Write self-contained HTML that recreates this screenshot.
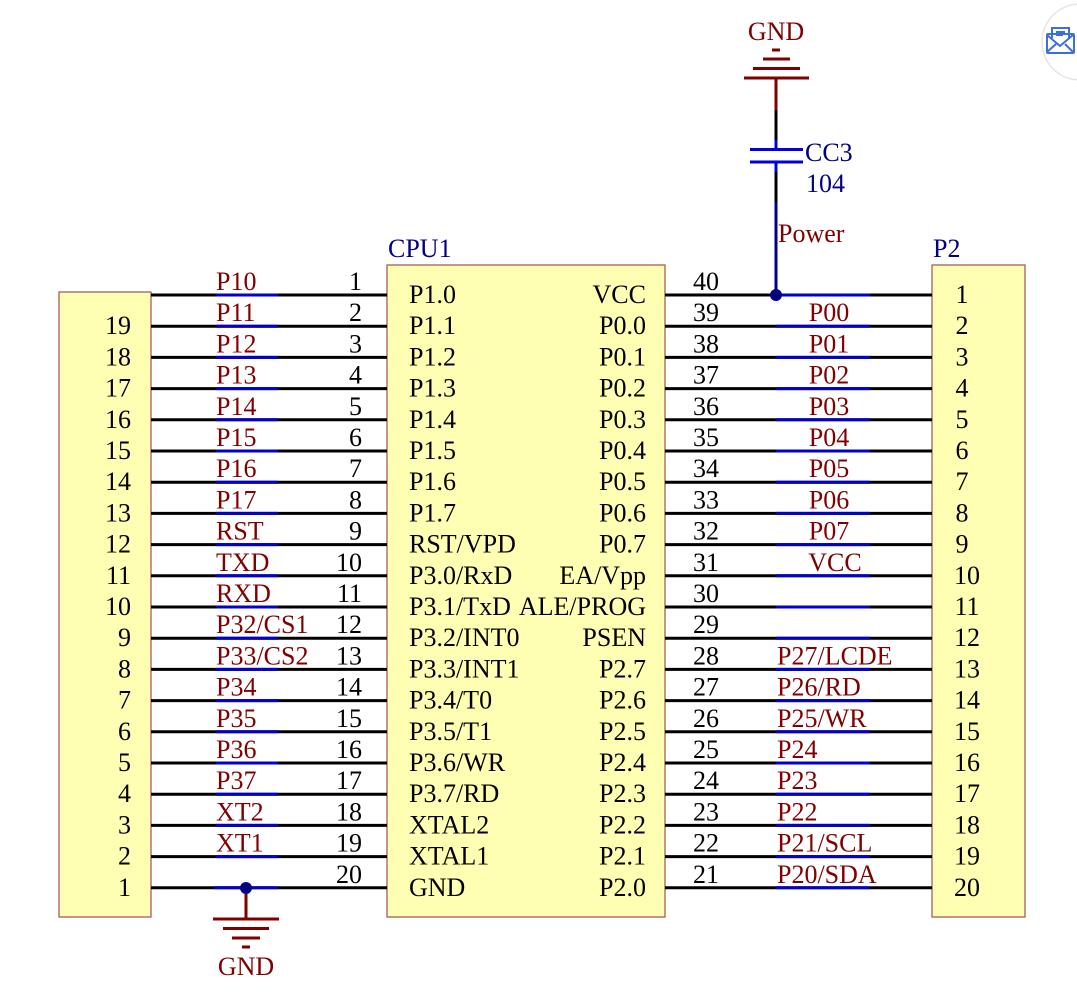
<!DOCTYPE html>
<html><head><meta charset="utf-8"><style>
html,body{margin:0;padding:0;background:#fff;}
svg{display:block;font-family:"Liberation Serif",serif;font-size:26px;}
.r{fill:#800000}.k{fill:#000}.b{fill:#000080}
</style></head><body>
<svg width="1077" height="1006" viewBox="0 0 1077 1006" xmlns="http://www.w3.org/2000/svg">
<rect x="59" y="292" width="92" height="625" fill="#ffffb4" stroke="#a05050" stroke-width="1.2"/>
<rect x="387" y="265" width="278" height="652" fill="#ffffb4" stroke="#a05050" stroke-width="1.2"/>
<rect x="932" y="265" width="93" height="652" fill="#ffffb4" stroke="#a05050" stroke-width="1.2"/>
<g stroke="#000" stroke-width="3">
<line x1="151" y1="295" x2="387" y2="295"/><line x1="151" y1="326.2" x2="387" y2="326.2"/><line x1="151" y1="357.4" x2="387" y2="357.4"/><line x1="151" y1="388.6" x2="387" y2="388.6"/><line x1="151" y1="419.8" x2="387" y2="419.8"/><line x1="151" y1="451" x2="387" y2="451"/><line x1="151" y1="482.2" x2="387" y2="482.2"/><line x1="151" y1="513.4" x2="387" y2="513.4"/><line x1="151" y1="544.6" x2="387" y2="544.6"/><line x1="151" y1="575.8" x2="387" y2="575.8"/><line x1="151" y1="607" x2="387" y2="607"/><line x1="151" y1="638.2" x2="387" y2="638.2"/><line x1="151" y1="669.4" x2="387" y2="669.4"/><line x1="151" y1="700.6" x2="387" y2="700.6"/><line x1="151" y1="731.8" x2="387" y2="731.8"/><line x1="151" y1="763" x2="387" y2="763"/><line x1="151" y1="794.2" x2="387" y2="794.2"/><line x1="151" y1="825.4" x2="387" y2="825.4"/><line x1="151" y1="856.6" x2="387" y2="856.6"/><line x1="151" y1="887.8" x2="387" y2="887.8"/>
<line x1="665" y1="295" x2="932" y2="295"/><line x1="665" y1="326.2" x2="932" y2="326.2"/><line x1="665" y1="357.4" x2="932" y2="357.4"/><line x1="665" y1="388.6" x2="932" y2="388.6"/><line x1="665" y1="419.8" x2="932" y2="419.8"/><line x1="665" y1="451" x2="932" y2="451"/><line x1="665" y1="482.2" x2="932" y2="482.2"/><line x1="665" y1="513.4" x2="932" y2="513.4"/><line x1="665" y1="544.6" x2="932" y2="544.6"/><line x1="665" y1="575.8" x2="932" y2="575.8"/><line x1="665" y1="607" x2="932" y2="607"/><line x1="665" y1="638.2" x2="932" y2="638.2"/><line x1="665" y1="669.4" x2="932" y2="669.4"/><line x1="665" y1="700.6" x2="932" y2="700.6"/><line x1="665" y1="731.8" x2="932" y2="731.8"/><line x1="665" y1="763" x2="932" y2="763"/><line x1="665" y1="794.2" x2="932" y2="794.2"/><line x1="665" y1="825.4" x2="932" y2="825.4"/><line x1="665" y1="856.6" x2="932" y2="856.6"/><line x1="665" y1="887.8" x2="932" y2="887.8"/>
</g>
<g stroke="#0000c8" stroke-width="3">
<line x1="216" y1="295" x2="278" y2="295"/><line x1="216" y1="326.2" x2="278" y2="326.2"/><line x1="216" y1="357.4" x2="278" y2="357.4"/><line x1="216" y1="388.6" x2="278" y2="388.6"/><line x1="216" y1="419.8" x2="278" y2="419.8"/><line x1="216" y1="451" x2="278" y2="451"/><line x1="216" y1="482.2" x2="278" y2="482.2"/><line x1="216" y1="513.4" x2="278" y2="513.4"/><line x1="216" y1="544.6" x2="278" y2="544.6"/><line x1="216" y1="575.8" x2="278" y2="575.8"/><line x1="216" y1="607" x2="278" y2="607"/><line x1="216" y1="638.2" x2="278" y2="638.2"/><line x1="216" y1="669.4" x2="278" y2="669.4"/><line x1="216" y1="700.6" x2="278" y2="700.6"/><line x1="216" y1="731.8" x2="278" y2="731.8"/><line x1="216" y1="763" x2="278" y2="763"/><line x1="216" y1="794.2" x2="278" y2="794.2"/><line x1="216" y1="825.4" x2="278" y2="825.4"/><line x1="216" y1="856.6" x2="278" y2="856.6"/><line x1="214" y1="887.8" x2="278" y2="887.8"/>
<line x1="776" y1="295" x2="870" y2="295"/><line x1="776" y1="326.2" x2="870" y2="326.2"/><line x1="776" y1="357.4" x2="870" y2="357.4"/><line x1="776" y1="388.6" x2="870" y2="388.6"/><line x1="776" y1="419.8" x2="870" y2="419.8"/><line x1="776" y1="451" x2="870" y2="451"/><line x1="776" y1="482.2" x2="870" y2="482.2"/><line x1="776" y1="513.4" x2="870" y2="513.4"/><line x1="776" y1="544.6" x2="870" y2="544.6"/><line x1="776" y1="575.8" x2="870" y2="575.8"/><line x1="776" y1="607" x2="870" y2="607"/><line x1="776" y1="638.2" x2="870" y2="638.2"/><line x1="776" y1="669.4" x2="870" y2="669.4"/><line x1="776" y1="700.6" x2="870" y2="700.6"/><line x1="776" y1="731.8" x2="870" y2="731.8"/><line x1="776" y1="763" x2="870" y2="763"/><line x1="776" y1="794.2" x2="870" y2="794.2"/><line x1="776" y1="825.4" x2="870" y2="825.4"/><line x1="776" y1="856.6" x2="870" y2="856.6"/><line x1="776" y1="887.8" x2="870" y2="887.8"/>
</g>
<g stroke="#800000" stroke-width="3">
<line x1="744" y1="78" x2="809" y2="78"/><line x1="753" y1="68.5" x2="800" y2="68.5"/><line x1="763" y1="59" x2="790" y2="59"/><line x1="772" y1="50" x2="780" y2="50"/>
<line x1="776" y1="78" x2="776" y2="110"/>
</g>
<line x1="776" y1="110" x2="776" y2="140" stroke="#000" stroke-width="3"/>
<line x1="776" y1="140" x2="776" y2="150" stroke="#0000e0" stroke-width="3"/>
<line x1="750" y1="149.5" x2="803" y2="149.5" stroke="#0000e0" stroke-width="3"/>
<line x1="750" y1="162" x2="803" y2="162" stroke="#0000e0" stroke-width="3"/>
<line x1="776" y1="162" x2="776" y2="172" stroke="#0000e0" stroke-width="3"/>
<line x1="776" y1="172" x2="776" y2="202" stroke="#000" stroke-width="3"/>
<line x1="776" y1="202" x2="776" y2="295" stroke="#000090" stroke-width="3"/>
<circle cx="776" cy="295" r="6" fill="#000080"/>
<text x="776" y="40" class="r" text-anchor="middle">GND</text>
<text x="805" y="161" class="b">CC3</text>
<text x="806" y="192" class="b">104</text>
<text x="778" y="242" class="r">Power</text>
<g stroke="#800000" stroke-width="3">
<line x1="246" y1="888" x2="246" y2="919"/>
<line x1="213" y1="919" x2="279" y2="919"/><line x1="223" y1="928.5" x2="269" y2="928.5"/><line x1="232" y1="938" x2="260" y2="938"/><line x1="242" y1="947" x2="250" y2="947"/>
</g>
<circle cx="246" cy="888" r="6" fill="#000080"/>
<text x="246" y="975" class="r" text-anchor="middle">GND</text>
<text x="388" y="257" class="b">CPU1</text>
<text x="933" y="257" class="b">P2</text>
<g class="r">
<text x="216" y="290">P10</text><text x="216" y="321.2">P11</text><text x="216" y="352.4">P12</text><text x="216" y="383.6">P13</text><text x="216" y="414.8">P14</text><text x="216" y="446">P15</text><text x="216" y="477.2">P16</text><text x="216" y="508.4">P17</text><text x="216" y="539.6">RST</text><text x="216" y="570.8">TXD</text><text x="216" y="602">RXD</text><text x="216" y="633.2">P32/CS1</text><text x="216" y="664.4">P33/CS2</text><text x="216" y="695.6">P34</text><text x="216" y="726.8">P35</text><text x="216" y="758">P36</text><text x="216" y="789.2">P37</text><text x="216" y="820.4">XT2</text><text x="216" y="851.6">XT1</text>
</g>
<g class="k" text-anchor="end">
<text x="362" y="290">1</text><text x="362" y="321.2">2</text><text x="362" y="352.4">3</text><text x="362" y="383.6">4</text><text x="362" y="414.8">5</text><text x="362" y="446">6</text><text x="362" y="477.2">7</text><text x="362" y="508.4">8</text><text x="362" y="539.6">9</text><text x="362" y="570.8">10</text><text x="362" y="602">11</text><text x="362" y="633.2">12</text><text x="362" y="664.4">13</text><text x="362" y="695.6">14</text><text x="362" y="726.8">15</text><text x="362" y="758">16</text><text x="362" y="789.2">17</text><text x="362" y="820.4">18</text><text x="362" y="851.6">19</text><text x="362" y="882.8">20</text>
<text x="131" y="334.2">19</text><text x="131" y="365.4">18</text><text x="131" y="396.6">17</text><text x="131" y="427.8">16</text><text x="131" y="459">15</text><text x="131" y="490.2">14</text><text x="131" y="521.4">13</text><text x="131" y="552.6">12</text><text x="131" y="583.8">11</text><text x="131" y="615">10</text><text x="131" y="646.2">9</text><text x="131" y="677.4">8</text><text x="131" y="708.6">7</text><text x="131" y="739.8">6</text><text x="131" y="771">5</text><text x="131" y="802.2">4</text><text x="131" y="833.4">3</text><text x="131" y="864.6">2</text><text x="131" y="895.8">1</text>
</g>
<g class="k">
<text x="409" y="303">P1.0</text><text x="409" y="334.2">P1.1</text><text x="409" y="365.4">P1.2</text><text x="409" y="396.6">P1.3</text><text x="409" y="427.8">P1.4</text><text x="409" y="459">P1.5</text><text x="409" y="490.2">P1.6</text><text x="409" y="521.4">P1.7</text><text x="409" y="552.6">RST/VPD</text><text x="409" y="583.8">P3.0/RxD</text><text x="409" y="615">P3.1/TxD</text><text x="409" y="646.2">P3.2/INT0</text><text x="409" y="677.4">P3.3/INT1</text><text x="409" y="708.6">P3.4/T0</text><text x="409" y="739.8">P3.5/T1</text><text x="409" y="771">P3.6/WR</text><text x="409" y="802.2">P3.7/RD</text><text x="409" y="833.4">XTAL2</text><text x="409" y="864.6">XTAL1</text><text x="409" y="895.8">GND</text>
</g>
<g class="k" text-anchor="end">
<text x="646" y="303">VCC</text><text x="646" y="334.2">P0.0</text><text x="646" y="365.4">P0.1</text><text x="646" y="396.6">P0.2</text><text x="646" y="427.8">P0.3</text><text x="646" y="459">P0.4</text><text x="646" y="490.2">P0.5</text><text x="646" y="521.4">P0.6</text><text x="646" y="552.6">P0.7</text><text x="646" y="583.8">EA/Vpp</text><text x="646" y="615">ALE/PROG</text><text x="646" y="646.2">PSEN</text><text x="646" y="677.4">P2.7</text><text x="646" y="708.6">P2.6</text><text x="646" y="739.8">P2.5</text><text x="646" y="771">P2.4</text><text x="646" y="802.2">P2.3</text><text x="646" y="833.4">P2.2</text><text x="646" y="864.6">P2.1</text><text x="646" y="895.8">P2.0</text>
</g>
<g class="k" text-anchor="middle">
<text x="706" y="290">40</text><text x="706" y="321.2">39</text><text x="706" y="352.4">38</text><text x="706" y="383.6">37</text><text x="706" y="414.8">36</text><text x="706" y="446">35</text><text x="706" y="477.2">34</text><text x="706" y="508.4">33</text><text x="706" y="539.6">32</text><text x="706" y="570.8">31</text><text x="706" y="602">30</text><text x="706" y="633.2">29</text><text x="706" y="664.4">28</text><text x="706" y="695.6">27</text><text x="706" y="726.8">26</text><text x="706" y="758">25</text><text x="706" y="789.2">24</text><text x="706" y="820.4">23</text><text x="706" y="851.6">22</text><text x="706" y="882.8">21</text>
<text x="962" y="303">1</text><text x="962" y="334.2">2</text><text x="962" y="365.4">3</text><text x="962" y="396.6">4</text><text x="962" y="427.8">5</text><text x="962" y="459">6</text><text x="962" y="490.2">7</text><text x="962" y="521.4">8</text><text x="962" y="552.6">9</text><text x="967" y="583.8">10</text><text x="967" y="615">11</text><text x="967" y="646.2">12</text><text x="967" y="677.4">13</text><text x="967" y="708.6">14</text><text x="967" y="739.8">15</text><text x="967" y="771">16</text><text x="967" y="802.2">17</text><text x="967" y="833.4">18</text><text x="967" y="864.6">19</text><text x="967" y="895.8">20</text>
</g>
<g class="r" text-anchor="middle">
<text x="829" y="321.2">P00</text><text x="829" y="352.4">P01</text><text x="829" y="383.6">P02</text><text x="829" y="414.8">P03</text><text x="829" y="446">P04</text><text x="829" y="477.2">P05</text><text x="829" y="508.4">P06</text><text x="829" y="539.6">P07</text><text x="835" y="570.8">VCC</text>
</g>
<g class="r">
<text x="777" y="664.4">P27/LCDE</text><text x="777" y="695.6">P26/RD</text><text x="777" y="726.8">P25/WR</text><text x="777" y="758">P24</text><text x="777" y="789.2">P23</text><text x="777" y="820.4">P22</text><text x="777" y="851.6">P21/SCL</text><text x="777" y="882.8">P20/SDA</text>
</g>
<circle cx="1080" cy="42" r="38" fill="#fff" stroke="#e4e4e4" stroke-width="1.5"/>
<g fill="none" stroke="#3b6fe0" stroke-width="2">
<rect x="1047" y="34" width="27" height="19" rx="1"/>
<path d="M1047 35 L1060 46 L1073 35 M1047 52 L1056 44 M1073 52 L1065 44"/>
<path d="M1052 38 V28 H1069 V38 M1056 32 H1065 M1056 35 H1063"/>
</g>
</svg>
</body></html>
